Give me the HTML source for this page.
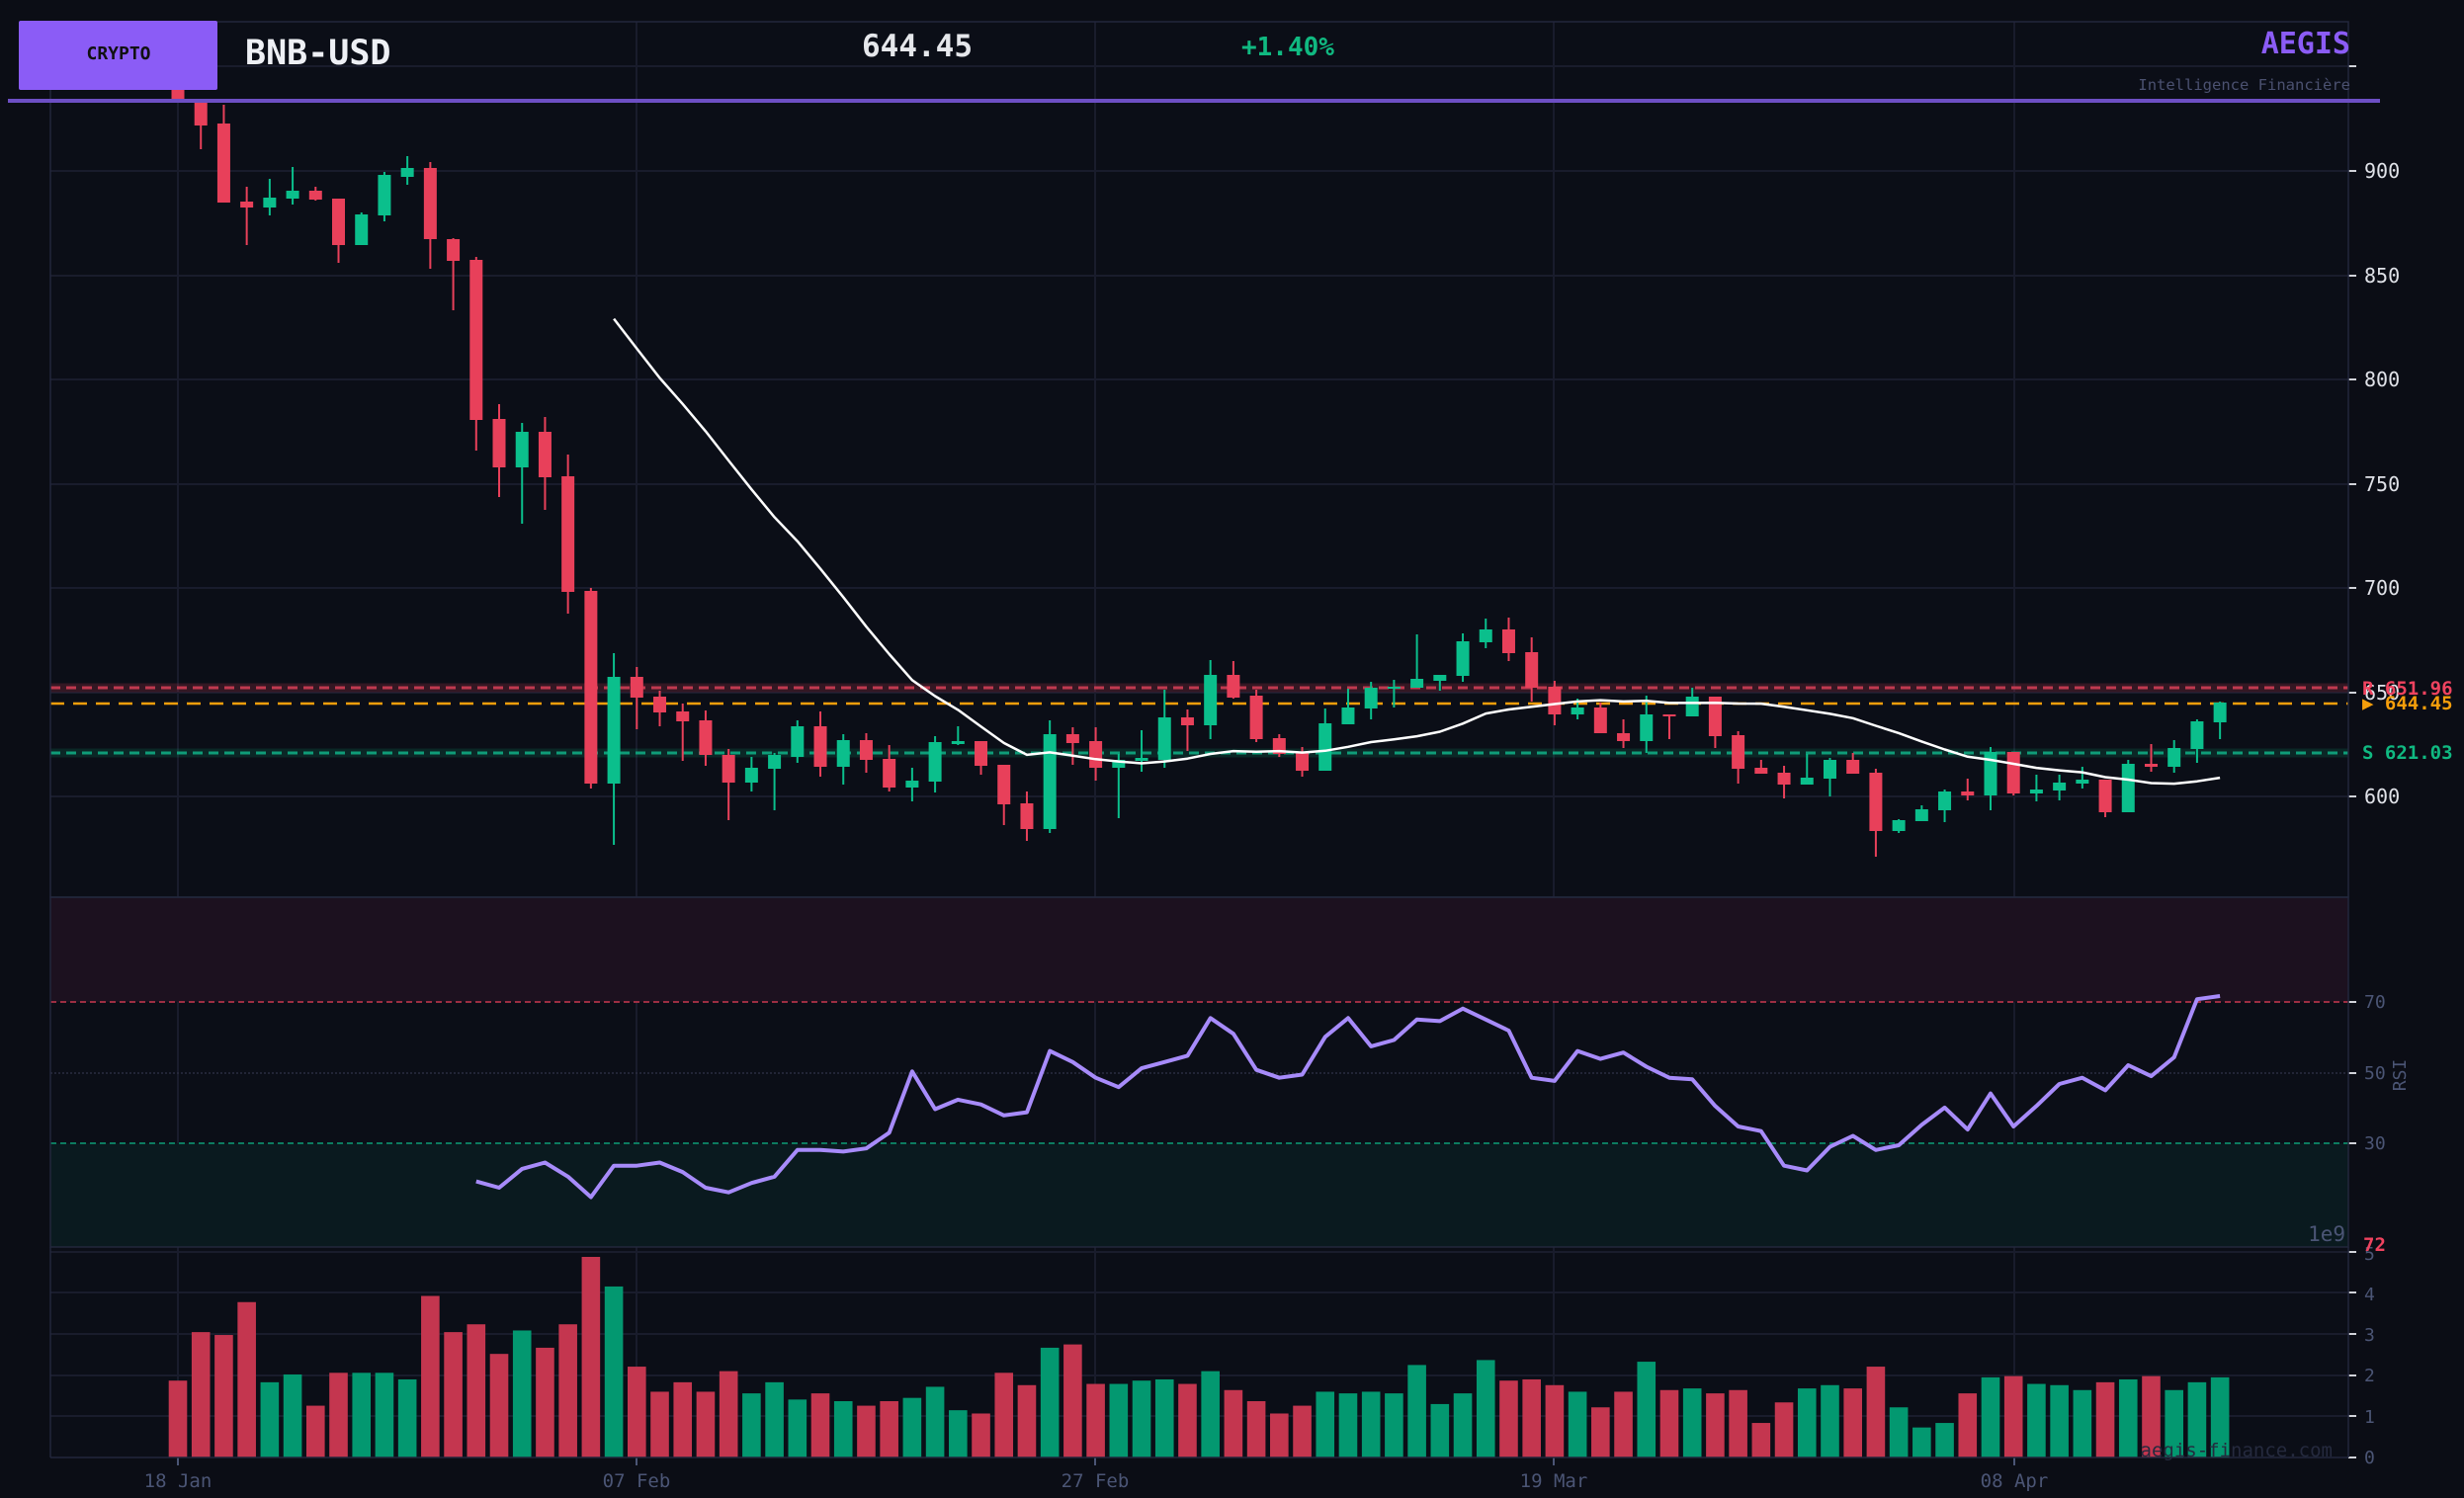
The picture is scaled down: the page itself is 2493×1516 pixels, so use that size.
<!DOCTYPE html>
<html><head><meta charset="utf-8"><style>
html,body{margin:0;padding:0;background:#0b0d15;}
svg{display:block;}
text{font-family:"DejaVu Sans Mono","Liberation Mono",monospace;}
</style></head><body>
<svg id="s" width="2493" height="1516" viewBox="0 0 2493 1516" xmlns="http://www.w3.org/2000/svg">
<rect width="2493" height="1516" fill="#0b0d15"/>
<rect x="51" y="22" width="2325" height="886" fill="#0b0e17"/>
<rect x="51" y="908" width="2325" height="354" fill="#0b0e17"/>
<rect x="51" y="1262" width="2325" height="213" fill="#0b0e17"/>
<g id="grid"></g>
<g id="main"></g>
<g id="rsi"></g>
<g id="vol"></g>
<!-- spines -->
<g fill="none" stroke="#22273c" stroke-width="1.5">
<rect x="51" y="22" width="2325" height="886"/>
<rect x="51" y="908" width="2325" height="354"/>
<line x1="51" y1="1475" x2="2376" y2="1475"/>
<line x1="51" y1="1262" x2="51" y2="1475"/>
<line x1="2376" y1="1262" x2="2376" y2="1475"/>
</g>
<!-- header -->
<rect x="19" y="21" width="201" height="70" rx="2" fill="#8b5cf6"/>
<text x="120" y="60" font-size="18" font-weight="bold" fill="#111" text-anchor="middle">CRYPTO</text>
<text x="248" y="65" font-size="35" font-weight="bold" fill="#eef0f5">BNB-USD</text>
<text x="872" y="57" font-size="31" font-weight="bold" fill="#e5e7eb">644.45</text>
<text x="1256" y="56" font-size="26" font-weight="bold" fill="#10b981">+1.40%</text>
<text x="2378" y="54" font-size="30" font-weight="bold" fill="#8b5cf6" text-anchor="end">AEGIS</text>
<text x="2378" y="91" font-size="15.5" fill="#4b5170" text-anchor="end">Intelligence Financière</text>
<rect x="8" y="100" width="2400" height="4" fill="#6d4fc4"/>
<!-- price axis labels -->
<g font-size="20" fill="#e0e2e8">
<text x="2392" y="180">900</text><text x="2392" y="286">850</text><text x="2392" y="391">800</text>
<text x="2392" y="497">750</text><text x="2392" y="602">700</text><text x="2392" y="708">650</text>
<text x="2392" y="813">600</text>
</g>
<g font-size="19" font-weight="bold">
<text x="2390" y="703" fill="#f0435f">R  651.96</text>
<text x="2390" y="718" fill="#f59e0b">▶ 644.45</text>
<text x="2390" y="768" fill="#10b981">S  621.03</text>
</g>
<g font-size="18" fill="#4b5575">
<text x="2392" y="1020">70</text><text x="2392" y="1092">50</text><text x="2392" y="1163">30</text>
<text x="2392" y="1275">5</text><text x="2392" y="1316">4</text><text x="2392" y="1357">3</text>
<text x="2392" y="1398">2</text><text x="2392" y="1440">1</text><text x="2392" y="1481">0</text>
</g>
<text x="2434" y="1088" font-size="18" fill="#4b5575" text-anchor="middle" transform="rotate(-90 2434 1088)">RSI</text>
<text x="2373" y="1256" font-size="21" fill="#4b5575" text-anchor="end">1e9</text>
<text x="2391" y="1266" font-size="19" font-weight="bold" fill="#f0435f">72</text>
<text x="2360" y="1474" font-size="19" fill="#252a3e" text-anchor="end">aegis-finance.com</text>
<g font-size="19" fill="#4b5575" text-anchor="middle">
<text x="180" y="1505">18 Jan</text><text x="644" y="1505">07 Feb</text><text x="1108" y="1505">27 Feb</text>
<text x="1572" y="1505">19 Mar</text><text x="2038" y="1505">08 Apr</text>
</g>
</svg>
<script>
var NS="http://www.w3.org/2000/svg";
function el(p,t,a){var e=document.createElementNS(NS,t);for(var k in a)e.setAttribute(k,a[k]);p.appendChild(e);return e;}
var G=document.getElementById('grid'),M=document.getElementById('main'),R=document.getElementById('rsi'),V=document.getElementById('vol');
var gc="#191c2c";
[67,173,279,384,490,595,701,806].forEach(function(y){el(G,'line',{x1:51,x2:2376,y1:y,y2:y,stroke:gc,'stroke-width':2});el(G,'line',{x1:2376,x2:2384,y1:y,y2:y,stroke:'#d0d2d8','stroke-width':2});});
[1267,1308,1350,1392,1433].forEach(function(y){el(G,'line',{x1:51,x2:2376,y1:y,y2:y,stroke:gc,'stroke-width':2});});
[1267,1308,1350,1392,1433,1475,1014,1086,1157].forEach(function(y){el(G,'line',{x1:2376,x2:2384,y1:y,y2:y,stroke:'#d0d2d8','stroke-width':2});});
[180,644,1108,1572,2038].forEach(function(x){el(G,'line',{x1:x,x2:x,y1:22,y2:1475,stroke:gc,'stroke-width':2});el(G,'line',{x1:x,x2:x,y1:1475,y2:1483,stroke:'#4b5575','stroke-width':2});});
// RSI zones
el(R,'rect',{x:51,y:908,width:2325,height:106,fill:'#1c111f'});
el(R,'rect',{x:51,y:1157,width:2325,height:105,fill:'#0a1a1f'});
el(R,'line',{x1:51,x2:2376,y1:1014,y2:1014,stroke:'#b03348','stroke-width':1.8,'stroke-dasharray':'6,4'});
el(R,'line',{x1:51,x2:2376,y1:1157,y2:1157,stroke:'#0c8a6a','stroke-width':1.8,'stroke-dasharray':'6,4'});
el(R,'line',{x1:51,x2:2376,y1:1086,y2:1086,stroke:'#2a2d40','stroke-width':1.5,'stroke-dasharray':'2,2'});
// candles
var C=[["r",60,103,40,103],["r",100,127,100,151],["r",125,205,106,205],["r",204,210,189,248],["g",200,210,181,218],["g",193,201,169,207],["r",193,202,189,203],["r",201,248,201,266],["g",217,248,215,248],["g",177,218,174,224],["g",170,179,158,187],["r",170,242,164,272],["r",242,264,241,314],["r",263,425,260,456],["r",424,473,409,503],["g",437,473,428,530],["r",437,483,422,516],["r",482,599,460,621],["r",598,793,595,798],["g",685,793,661,855],["r",685,706,675,738],["r",705,721,699,735],["r",720,730,712,770],["r",729,764,719,775],["r",764,792,758,830],["g",777,792,766,801],["g",764,778,762,820],["g",735,766,729,772],["r",735,776,720,786],["g",749,776,743,794],["r",749,769,742,782],["r",768,797,754,801],["g",790,797,777,811],["g",751,791,745,802],["g",750,753,735,754],["r",750,775,750,784],["r",774,814,774,835],["r",813,839,801,851],["g",743,839,729,843],["r",743,752,736,774],["r",750,777,736,790],["g",769,777,763,828],["g",767,770,739,781],["g",726,769,698,777],["r",726,734,718,760],["g",683,734,668,748],["r",683,706,669,707],["r",704,748,698,751],["r",747,763,743,766],["r",762,780,756,786],["g",732,780,717,780],["g",716,733,697,733],["g",696,717,690,728],["g",695,697,688,716],["g",687,696,642,696],["g",683,689,683,699],["g",649,684,641,690],["g",637,650,626,656],["r",637,661,625,669],["r",660,696,645,710],["r",695,723,689,734],["g",716,723,707,728],["r",716,742,711,742],["r",742,750,728,757],["g",723,750,704,762],["r",723,725,723,748],["g",705,725,696,725],["r",705,745,705,757],["r",744,778,740,793],["r",777,783,769,783],["r",782,794,775,808],["g",787,794,763,794],["g",769,788,767,806],["r",769,783,762,783],["r",782,841,778,867],["g",830,841,829,843],["g",819,831,815,831],["g",801,820,799,832],["r",801,805,788,810],["g",761,805,756,820],["r",761,803,761,805],["g",799,803,784,811],["g",792,800,784,810],["g",789,793,776,798],["r",789,822,789,827],["g",773,822,769,822],["r",773,776,753,781],["g",757,776,749,782],["g",730,758,728,772],["g",711,731,710,748]];
var VOL=[1.87,3.05,2.98,3.78,1.83,2.02,1.26,2.06,2.06,2.06,1.9,3.93,3.05,3.24,2.52,3.09,2.67,3.24,4.88,4.16,2.21,1.6,1.83,1.6,2.1,1.56,1.83,1.41,1.56,1.37,1.26,1.37,1.45,1.72,1.15,1.07,2.06,1.76,2.67,2.75,1.79,1.79,1.87,1.9,1.79,2.1,1.64,1.37,1.07,1.26,1.6,1.56,1.6,1.56,2.25,1.3,1.56,2.37,1.87,1.9,1.76,1.6,1.22,1.6,2.33,1.64,1.68,1.56,1.64,0.84,1.34,1.68,1.76,1.68,2.21,1.22,0.73,0.84,1.56,1.95,1.98,1.79,1.76,1.64,1.83,1.9,1.98,1.64,1.83,1.95];
var RS=[752,756,744,740,749,762,742,742,740,746,756,759,753,749,732,732,733,731,721,682,706,700,703,710,708,669,676,686,692,680,676,672,648,658,681,686,684,660,648,666,662,649,650,642,649,656,686,688,669,674,670,679,686,687,704,717,720,742,745,730,723,732,729,716,705,719,696,717,704,690,686,694,678,685,673,636,634];
function X(i){return 180+23.215*i;}
// S/R lines
el(M,'line',{x1:51,x2:2376,y1:696,y2:696,stroke:'#f0435f','stroke-opacity':0.18,'stroke-width':9});
el(M,'line',{x1:51,x2:2376,y1:696,y2:696,stroke:'#c0394f','stroke-width':3,'stroke-dasharray':'10,6'});
el(M,'line',{x1:51,x2:2376,y1:762,y2:762,stroke:'#10b981','stroke-opacity':0.15,'stroke-width':9});
el(M,'line',{x1:51,x2:2376,y1:762,y2:762,stroke:'#0f9c78','stroke-width':3,'stroke-dasharray':'10,6'});
el(M,'line',{x1:51,x2:2376,y1:712,y2:712,stroke:'#f59e0b','stroke-width':2.5,'stroke-dasharray':'14,9'});
var closes=[];
C.forEach(function(c,i){var col=c[0]=='g'?'#0bbf8c':'#e8405a';var x=X(i);
el(M,'line',{x1:x,x2:x,y1:c[3],y2:c[4],stroke:col,'stroke-width':2});
el(M,'rect',{x:x-6.5,y:c[1],width:13,height:Math.max(2,c[2]-c[1]),fill:col});
closes.push(c[0]=='g'?c[1]:c[2]);
var v=VOL[i];el(V,'rect',{x:x-9.3,y:1475-v*41.6,width:18.6,height:v*41.6,fill:c[0]=='g'?'#039870':'#c4364f'});});
var pts=[];for(var i=19;i<90;i++){var s=0;for(var j=i-19;j<=i;j++)s+=closes[j];pts.push(X(i).toFixed(1)+','+(s/20).toFixed(1));}
el(M,'polyline',{points:pts.join(' '),fill:'none',stroke:'#ffffff','stroke-width':2.5,'stroke-linejoin':'round'});
var rp=RS.map(function(y,k){return X(k+13).toFixed(1)+','+(y*1.5899).toFixed(1);});
el(R,'polyline',{points:rp.join(' '),fill:'none',stroke:'#a78bfa','stroke-width':4,'stroke-linejoin':'round'});
</script>
</body></html>
